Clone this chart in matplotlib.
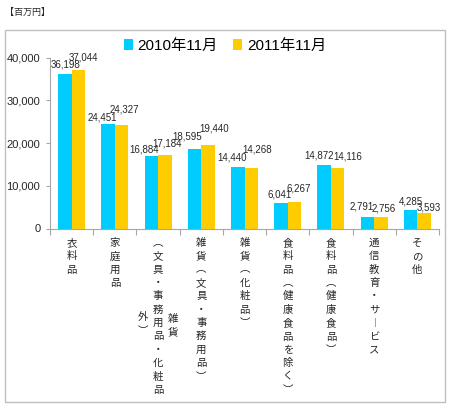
import numpy as np
import matplotlib
matplotlib.use('Agg')
import matplotlib.pyplot as plt
from matplotlib.patches import Rectangle

plt.rcParams['font.family'] = ['Liberation Sans', 'Noto Sans CJK JP', 'DejaVu Sans']

# data
categories = ['衣料品', '家庭用品', '雑貨（文具・事務用品・化粧品外）', '雑貨（文具・事務用品）',
              '雑貨（化粧品）', '食料品（健康食品を除く）', '食料品（健康食品）',
              '通信教育・サービス', 'その他']
# vertical forms of the tick labels
vertical_labels = ['衣料品', '家庭用品', '︵文具・事務用品・化粧品', '雑貨︵文具・事務用品︶',
                   '雑貨︵化粧品︶', '食料品︵健康食品を除く︶', '食料品︵健康食品︶',
                   '通信教育・サ︱ビス', 'その他']
series_names = ['2010年11月', '2011年11月']
values_2010 = [36198, 24451, 16884, 18595, 14440, 6041, 14872, 2791, 4285]
values_2011 = [37044, 24327, 17184, 19440, 14268, 6267, 14116, 2756, 3593]

# label nudges in pixels (Excel shuffles labels to avoid collisions)
nudge_2010 = [(1, 4), (-6, 2), (-7, 2), (-7, 8), (-6, 4), (-1, 3), (-5, 4), (-6, 5), (0, 4)]
nudge_2011 = [(5, 8), (3, 10), (2, 7), (6, 12), (6, 13), (4, 8), (10, 7), (3, 3), (5, 1)]

blue = '#00CCFF'
yellow = '#FFCC00'
axis_gray = '#A6A6A6'
txt = '#262626'

fig = plt.figure(figsize=(4.5, 4.08), dpi=100)
ax = fig.add_axes([50 / 450, 179.5 / 408, 389 / 450, 170.8 / 408])

x = np.arange(len(categories))
w = 0.313
b1 = ax.bar(x - w / 2, values_2010, w, color=blue, label=series_names[0])
b2 = ax.bar(x + w / 2, values_2011, w, color=yellow, label=series_names[1])

for xi, v, nd in zip(x, values_2010, nudge_2010):
    ax.annotate(f'{v:,}', (xi - w / 2, v), xytext=nd, textcoords='offset pixels',
                ha='center', va='bottom', fontsize=7, color=txt)
for xi, v, nd in zip(x, values_2011, nudge_2011):
    ax.annotate(f'{v:,}', (xi + w / 2, v), xytext=nd, textcoords='offset pixels',
                ha='center', va='bottom', fontsize=7, color=txt)

ax.set_xlim(-0.5, len(categories) - 0.5)
ax.set_ylim(0, 40000)
yt = [0, 10000, 20000, 30000, 40000]
ax.set_yticks(yt)
ax.set_yticklabels([f'{t:,}' for t in yt])
ax.tick_params(axis='y', labelsize=8, length=3, color=axis_gray, labelcolor=txt, pad=4)
ax.set_xticks(np.arange(len(categories) + 1) - 0.5)
ax.set_xticklabels([])
ax.tick_params(axis='x', length=4, color=axis_gray)
for s in ['top', 'right']:
    ax.spines[s].set_visible(False)
for s in ['left', 'bottom']:
    ax.spines[s].set_color(axis_gray)

# vertical category labels
cjk = ['Noto Sans CJK JP', 'DejaVu Sans']
xt = ax.get_xaxis_transform()
for i, lab in enumerate(vertical_labels):
    ax.text(i, -0.055, '\n'.join(lab), transform=xt, ha='center', va='top',
            fontsize=7.5, family=cjk, linespacing=1.42, color=txt)
# extra columns of the wrapped third label
ax.text(2.35, -0.5, '雑\n貨', transform=xt, ha='center', va='top',
        fontsize=7.5, family=cjk, linespacing=1.42, color=txt)
ax.text(1.65, -0.49, '外\n︶', transform=xt, ha='center', va='top',
        fontsize=7.5, family=cjk, linespacing=1.42, color=txt)

fig.legend(handles=[b1, b2], loc='center', bbox_to_anchor=(0.5, 1 - 46 / 408), ncol=2,
           frameon=False, fontsize=11, handlelength=0.6, handleheight=0.75,
           handletextpad=0.3, columnspacing=1.0)

fig.text(5 / 450, 1 - 12 / 408, '【百万円】', fontsize=6.5, family=cjk, va='center', color=txt)

fig.patches.append(Rectangle((4.5 / 450, 1 - 402 / 408), 440.5 / 450, 372 / 408,
                             transform=fig.transFigure, fill=False,
                             edgecolor='#BFBFBF', linewidth=1))

fig.savefig('out.png', dpi=100)
